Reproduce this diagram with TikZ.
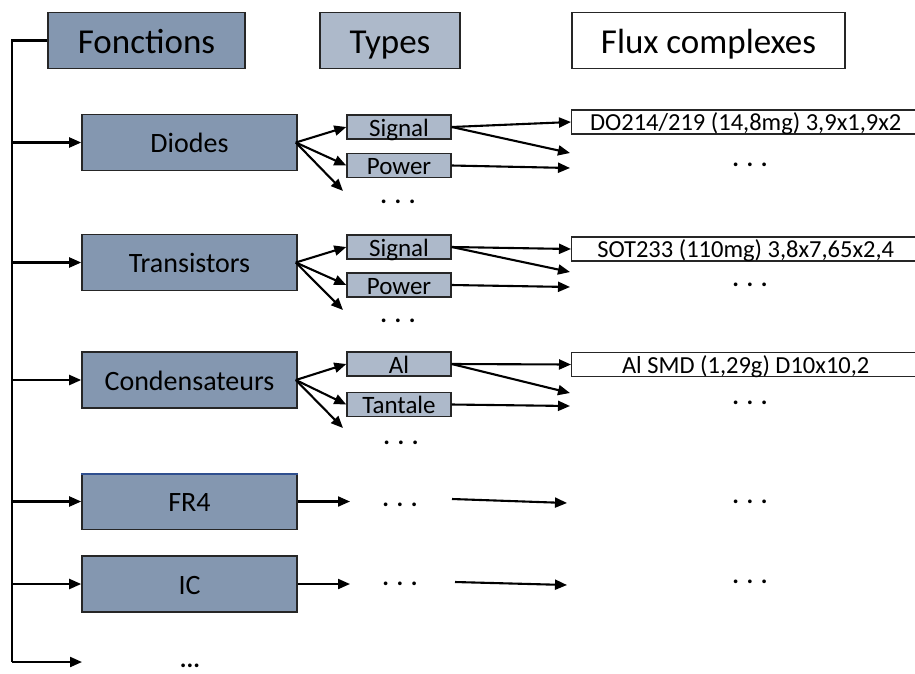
\documentclass[tikz,border=0pt]{standalone}
\usepackage{fontspec}
\setmainfont{Carlito}
\usetikzlibrary{arrows.meta}
\definecolor{fdark}{HTML}{8497B0}
\definecolor{flight}{HTML}{ADB9CA}
\definecolor{edgeblue}{HTML}{2F4F8F}
\begin{document}
\begin{tikzpicture}[x=1pt,y=-1pt,
  hdr/.style={draw=black!85,line width=1.6pt,minimum height=56pt,inner sep=0pt,text height=26pt,text depth=0pt,font=\fontsize{35}{38}\selectfont},
  fbox/.style={draw=black!85,fill=fdark,line width=1.6pt,minimum width=215pt,minimum height=56pt,inner sep=0pt,text height=20.5pt,text depth=0pt,font=\fontsize{28}{30}\selectfont},
  tbox/.style={draw=black!85,fill=flight,line width=1.4pt,minimum width=104pt,minimum height=24pt,inner sep=0pt,text height=18pt,text depth=0pt,font=\fontsize{25}{27}\selectfont},
  xbox/.style={draw=black!85,fill=white,line width=1.4pt,minimum width=348pt,minimum height=24pt,inner sep=0pt,anchor=west,text height=17.5pt,text depth=0pt,font=\fontsize{24.5}{26}\selectfont},
  dots/.style={inner sep=0pt,anchor=base,font=\fontsize{25}{28}\selectfont\bfseries},
  conn/.style={line width=2.1pt,-{Triangle[length=12pt,width=10pt]}},
  plain/.style={line width=2.1pt}]
\useasboundingbox (0,0) rectangle (915,673);
% headers
\node[hdr,fill=fdark,minimum width=197pt] (hf) at (146.5,40.5) {Fonctions};
\node[hdr,fill=flight,minimum width=140pt] (ht) at (390,40.5) {Types};
\node[hdr,fill=white,minimum width=273pt] (hx) at (708.5,40.5) {Flux complexes};
% function boxes
\node[fbox] (dio) at (189.5,142.5) {Diodes};
\node[fbox] (tra) at (189.5,262.5) {Transistors};
\node[fbox] (con) at (189.5,380) {Condensateurs};
\node[fbox] (fr4) at (189.5,501.5) {FR4};
\node[fbox] (ic) at (189.5,584) {IC};
\draw[edgeblue,line width=1.2pt] ([yshift=-1.3pt]fr4.north west) -- ([yshift=-1.3pt]fr4.north east);
% bracket
\coordinate (b0) at (12,40.5);
\coordinate (b1) at (12,662);
\coordinate (bend) at (82,662);
\draw[plain] (hf.west) -- (b0) -- (b1);
\draw[conn] (b1) -- (bend);
\foreach \n/\y in {dio/142.5,tra/262.5,con/380,fr4/501.5,ic/584}{
  \coordinate (l\n) at (12,\y);
  \draw[conn] (l\n) -- (\n.west);
}
\node[dots] (bdots) at (190,667) {...};
% type boxes
\node[tbox] (dsig) at (399,127) {Signal};
\node[tbox] (dpow) at (399,165.5) {Power};
\node[dots] (ddots) at (398,203.5) {. . .};
\node[tbox] (tsig) at (399,247) {Signal};
\node[tbox] (tpow) at (399,285) {Power};
\node[dots] (tdots) at (398,322) {. . .};
\node[tbox] (cal) at (399,364) {Al};
\node[tbox] (ctan) at (399,404.5) {Tantale};
\node[dots] (cdots) at (401,444.5) {. . .};
% flux boxes
\node[xbox] (dx) at (571,122) {DO214/219 (14,8mg) 3,9x1,9x2};
\node[xbox] (tx) at (571,249) {SOT233 (110mg) 3,8x7,65x2,4};
\node[xbox] (cx) at (571,364.5) {Al SMD (1,29g) D10x10,2};
\node[dots] (dxd) at (750,166.5) {. . .};
\node[dots] (txd) at (750,286.5) {. . .};
\node[dots] (cxd) at (750,404.5) {. . .};
\node[dots] (fxd) at (750,503.5) {. . .};
\node[dots] (ixd) at (750,583.5) {. . .};
% function -> type arrows
\coordinate (dio3) at (343,191);
\coordinate (tra3) at (343,310);
\coordinate (con3) at (343,428);
\foreach \f/\a/\b in {dio/dsig/dpow,tra/tsig/tpow,con/cal/ctan}{
  \coordinate (\f o) at ([xshift=-2pt]\f.east);
  \draw[conn] (\f o) -- (\a.west);
  \draw[conn] (\f o) -- (\b.west);
  \draw[conn] (\f o) -- (\f3);
}
% type -> flux arrows
\coordinate (dm) at (570,153);
\coordinate (dp) at (570,168);
\coordinate (tm) at (570,272);
\coordinate (tp) at (570,287);
\coordinate (cm) at (570,393);
\coordinate (cp) at (570,406);
\draw[conn] (dsig.east) -- (dx.west);
\draw[conn] (dsig.east) -- (dm);
\draw[conn] (dpow.east) -- (dp);
\draw[conn] (tsig.east) -- (tx.west);
\draw[conn] (tsig.east) -- (tm);
\draw[conn] (tpow.east) -- (tp);
\draw[conn] (cal.east) -- (cx.west);
\draw[conn] (cal.east) -- (cm);
\draw[conn] (ctan.east) -- (cp);
% FR4 and IC rows
\coordinate (f1) at (350,501.5);
\node[dots] (fd) at (400,506.5) {. . .};
\coordinate (f2a) at (452,499);
\coordinate (f2b) at (567,503);
\draw[conn] (fr4.east) -- (f1);
\draw[conn] (f2a) -- (f2b);
\coordinate (i1) at (350,584);
\node[dots] (id) at (400,585.5) {. . .};
\coordinate (i2a) at (455,582);
\coordinate (i2b) at (567,585);
\draw[conn] (ic.east) -- (i1);
\draw[conn] (i2a) -- (i2b);
\end{tikzpicture}
\end{document}
